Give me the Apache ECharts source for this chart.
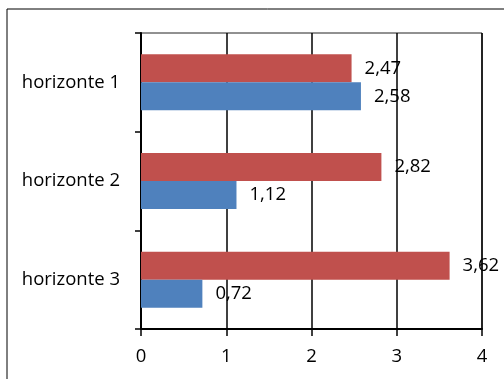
<!DOCTYPE html>
<html>
<head>
<meta charset="utf-8">
<script src="https://cdn.jsdelivr.net/npm/echarts@6/dist/echarts.min.js"></script>
<style>
  html, body { margin: 0; padding: 0; background: #fff; overflow: hidden; }
  /* the chart frame continues past the right and bottom edges of the window */
  #chart { width: 530px; height: 400px; }
</style>
</head>
<body>
<div id="chart"></div>
<script>
// Categories, top to bottom
const categories = ['horizonte 1', 'horizonte 2', 'horizonte 3'];
// Two series per horizon (red bar drawn above the blue one)
const redValues = [2.47, 2.82, 3.62];
const blueValues = [2.58, 1.12, 0.72];
// Value axis ticks
const axisMin = 0;
const axisMax = 4;
const axisStep = 1;

const FONT = '"Open Sans", "Noto Sans", sans-serif';

const chart = echarts.init(document.getElementById('chart'), null, { renderer: 'canvas' });

const valueLabel = {
  show: true,
  position: 'right',
  distance: 13,
  color: '#000',
  fontFamily: FONT,
  fontSize: 18.5,
  formatter: p => String(p.value).replace('.', ',')
};

chart.setOption({
  animation: false,
  backgroundColor: '#fff',
  grid: [
    {
      // plot area
      left: 141, top: 33, right: 48, bottom: 71,
      show: true,
      borderColor: '#222',
      borderWidth: 1
    },
    {
      // outer chart frame
      left: 7, top: 9, right: 2, bottom: 2,
      show: true,
      borderColor: '#000',
      borderWidth: 1,
      backgroundColor: 'transparent'
    }
  ],
  xAxis: [
    {
      type: 'value',
      gridIndex: 0,
      min: axisMin,
      max: axisMax,
      interval: axisStep,
      axisLine: { show: true, onZero: false, lineStyle: { color: '#000', width: 2 } },
      axisTick: { show: true, length: 7, lineStyle: { color: '#000', width: 1.5 } },
      axisLabel: { color: '#000', fontFamily: FONT, fontSize: 18.5, margin: 18 },
      splitLine: { show: true, lineStyle: { color: '#000', width: 1.5 } }
    },
    { type: 'value', gridIndex: 1, show: false, splitLine: { show: false } }
  ],
  yAxis: [
    {
      type: 'category',
      gridIndex: 0,
      data: categories,
      inverse: true,
      axisLine: { show: true, lineStyle: { color: '#000', width: 2 } },
      axisTick: { show: true, length: 6, lineStyle: { color: '#000', width: 1.5 } },
      axisLabel: { color: '#000', fontFamily: FONT, fontSize: 18.5, margin: 21 },
      splitLine: { show: false }
    },
    { type: 'value', gridIndex: 1, show: false, splitLine: { show: false } }
  ],
  series: [
    {
      name: 'serie 2',
      type: 'bar',
      xAxisIndex: 0,
      yAxisIndex: 0,
      data: redValues,
      barWidth: 28,
      barGap: '0%',
      itemStyle: { color: '#C0504D' },
      label: valueLabel
    },
    {
      name: 'serie 1',
      type: 'bar',
      xAxisIndex: 0,
      yAxisIndex: 0,
      data: blueValues,
      barWidth: 28,
      barGap: '0%',
      itemStyle: { color: '#4F81BD' },
      label: valueLabel
    }
  ]
});
</script>
</body>
</html>
